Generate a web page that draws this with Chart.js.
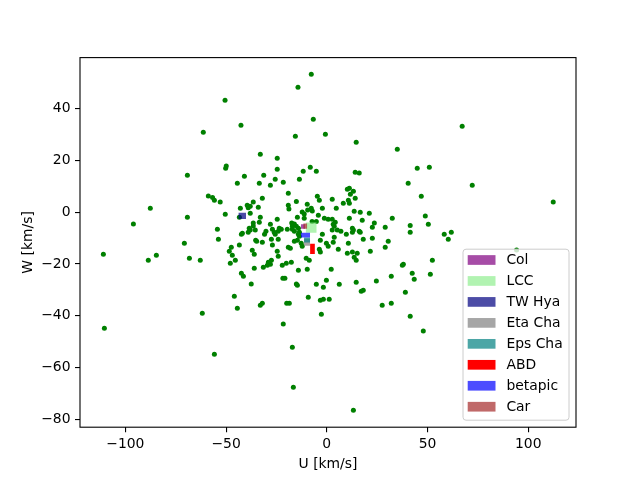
<!DOCTYPE html>
<html>
<head>
<meta charset="utf-8">
<script src="https://cdn.jsdelivr.net/npm/chart.js@4"></script>
<style>
  html, body { margin: 0; padding: 0; background: #fff; }
  canvas { display: block; }
</style>
</head>
<body>
<canvas id="uw-chart" width="640" height="480"></canvas>
<script>
// stars: U and W velocities (km/s)
const starU = [
  -7.7, -14.3, -50.5, -6.7, -42.6, 67.2, -61.3, -0.7, -15.6, 14.6,
  35.0, -33.0, -24.6, -49.9, -50.2, -8.2, 44.9, 50.9, -24.6, -11.7,
  -5.2, 14.1, 16.1, -69.2, -40.9, -31.3, -25.6, -13.6, -44.4, -33.5,
  -21.6, 40.4, -28.0, 72.2, 11.2, 10.2, 13.2, -19.1, 11.7, -58.8,
  -56.7, -4.7, 46.9, -32.0, 14.1, 2.7, -55.8, -3.7, 10.7, -15.1,
  -52.9, -36.5, 112.4, 8.2, 11.2, -9.7, -19.1, -39.5, -38.0, -39.0,
  -34.0, -87.6, -42.9, -7.7, -2.2, 4.7, -18.8, -9.5, -7.2, -12.2,
  13.6, 16.6, -38.0, 21.1, -50.4, -11.2, -4.2, 48.9, -69.2, -33.0,
  -43.4, -14.6, -11.2, -1.2, 11.2, 32.5, -24.6, 0.7, 2.7, 17.6,
  -7.3, -5.2, -33.5, 4.2, -36.5, -17.4, 23.6, -16.1, -28.0, -96.0,
  50.4, 3.2, 41.4, -36.5, -17.1, -15.1, 29.0, 22.6, -14.1, -23.6,
  -38.5, 12.7, -54.3, -27.0, -22.6, -19.6, -17.1, 3.7, -38.0, -35.5,
  2.7, 5.2, 13.2, -30.2, -24.1, -16.1, 7.0, 12.7, 16.1,
  -26.1, -13.6, -39.0, 16.6, 41.4, 61.8, -41.9, -42.4, -30.9, -25.6,
  -14.1, -2.2, 9.7, 58.3, -13.6, 3.7, -53.8, -27.5, -24.1, 18.1,
  22.6, 60.3, -14.6, -3.2, -35.3, -34.8, -16.1, 30.5, -32.0, 3.2,
  -12.7, -0.2, -70.7, 10.7, -43.4, -27.0, -12.2, 0.7, -47.4, -19.1,
  -18.1, 29.0, -3.7, 5.7, -48.4, -37.0, -24.6, 21.6, -3.2, 12.7,
  10.2, 15.1, -110.9, -46.9, -36.0, -84.6, -24.1, 13.6, -68.2, -10.2,
  -88.6, -62.8, -45.4, -27.5, -8.7, 14.6, 52.4, 94.2, -29.0, -17.6,
  -28.0, -47.9, -20.1, 38.0, 37.5, -29.5, -22.1, -31.5, -36.0, -9.7,
  2.2, -14.1, -42.4, 42.4, 51.4, -41.4, 32.0, -21.8, -20.8, 43.4,
  -0.2, 24.6, 14.6, -37.5, -15.1, -5.2, 6.2, -14.6, -1.7, 18.1,
  17.1, 39.0, -45.9, -9.2, -3.2, -1.7, 1.2, -19.9, -18.6, -32.0,
  -33.0, 32.0, 27.5, -44.4, -61.8, -2.7, 41.4, -21.6, -110.4, 47.9,
  -17.1, -55.8, -16.6, 13.2,
];
const starW = [
  53.3, 48.3, 43.2, 35.9, 33.6, 33.2, 30.9, 30.1, 29.3, 27.0,
  24.3, 22.4, 20.8, 17.8, 17.0, 17.4, 17.0, 17.4, 16.6, 15.8,
  15.8, 15.4, 15.1, 14.3, 13.9, 14.3, 12.7, 12.7, 11.2, 11.2,
  11.6, 11.2, 10.4, 10.4, 9.3, 8.9, 8.1, 7.3, 6.9, 6.3,
  5.7, 6.2, 6.2, 5.4, 5.4, 5.0, 4.6, 4.6, 4.6, 4.1,
  3.9, 3.9, 3.9, 3.5, 3.5, 3.1, 2.7, 2.7, 2.3, 1.7,
  1.9, 1.5, 1.5, 1.5, 1.5, 1.5, 1.2, 0.9, 0.5, 0.1,
  0.4, 0.0, -0.4, -0.4, -0.8, -0.7, -1.2, -1.5, -1.9, -1.9,
  -1.9, -1.9, -2.3, -2.3, -2.3, -2.3, -2.7, -2.7, -2.7, -3.1,
  -3.6, -3.6, -3.9, -3.9, -4.2, -4.2, -4.2, -4.5, -4.6, -4.5,
  -4.6, -4.6, -5.1, -5.3, -5.4, -5.4, -5.8, -5.8, -6.2, -6.2,
  -6.2, -6.2, -6.6, -6.6, -6.6, -6.6, -6.6, -5.4, -6.9, -6.9,
  -6.9, -6.9, -6.9, -7.3, -7.3, -7.3, -7.3, -7.7, -7.3,
  -7.7, -7.7, -7.7, -7.7, -7.7, -7.7, -8.1, -8.5, -8.5, -8.5,
  -8.5, -8.5, -8.5, -8.5, -9.3, -9.7, -10.4, -10.4, -10.4, -10.4,
  -10.0, -10.4, -10.8, -10.8, -10.8, -11.2, -11.2, -11.2, -11.6, -11.6,
  -12.0, -12.0, -12.0, -12.0, -12.7, -12.7, -13.1, -13.1, -13.5, -13.5,
  -13.9, -13.5, -14.3, -14.3, -15.1, -14.7, -15.1, -15.1, -15.4, -15.4,
  -15.8, -15.8, -16.2, -16.6, -16.2, -16.6, -17.0, -17.4, -17.8, -17.8,
  -18.5, -18.5, -18.5, -18.5, -18.5, -18.5, -18.5, -14.6, -19.3, -19.3,
  -20.1, -19.7, -19.7, -20.1, -20.5, -20.5, -20.5, -21.2, -21.6, -22.0,
  -22.0, -22.4, -23.6, -23.6, -23.9, -24.7, -24.7, -25.5, -25.5, -25.9,
  -26.3, -26.6, -27.0, -27.7, -27.7, -27.8, -27.8, -28.2, -29.0, -30.1,
  -30.5, -30.9, -32.4, -32.8, -34.0, -33.6, -33.6, -35.1, -35.1, -35.1,
  -35.9, -35.1, -35.9, -37.1, -39.0, -39.4, -40.2, -43.2, -44.8, -45.9,
  -52.1, -54.8, -67.6, -76.5,
];

// moving groups: U/W boxes
const groupNames  = ['Col', 'LCC', 'TW Hya', 'Eta Cha', 'Eps Cha', 'ABD', 'betapic', 'Car'];
const groupColors = [
  'rgba(128,0,128,0.7)', 'rgba(144,238,144,0.7)', 'rgba(0,0,128,0.7)', 'rgba(128,128,128,0.7)',
  'rgba(0,128,128,0.7)', 'rgb(255,0,0)', 'rgba(0,0,255,0.7)', 'rgba(165,42,42,0.7)',
];
const groupUMin = [-12.8, -10.5, -43.9, -11.3, -11.3, -8.3, -12.8, -11.7];
const groupUMax = [-10.7, -5.0, -40.1, -8.3, -8.3, -5.9, -8.3, -9.7];
const groupWMin = [-6.4, -7.9, -2.6, -12.9, -11.7, -16.1, -9.8, -6.4];
const groupWMax = [-4.6, -4.0, -0.2, -10.2, -9.8, -12.2, -7.9, -4.4];

const xTicks = [-100, -50, 0, 50, 100];
const yTicks = [-80, -60, -40, -20, 0, 20, 40];

const FONT = 13.9;
Chart.defaults.font.family = '"DejaVu Sans", sans-serif';
Chart.defaults.font.size = FONT;
Chart.defaults.color = '#000';

const minus = v => String(v).replace('-', '\u2212');

// spines on all four sides
const frame = {
  id: 'frame',
  afterDatasetsDraw(chart) {
    const { ctx, chartArea: a } = chart;
    ctx.save();
    ctx.strokeStyle = '#000';
    ctx.lineWidth = 1.1;
    ctx.strokeRect(a.left, a.top, a.right - a.left, a.bottom - a.top);
    ctx.restore();
  },
};

// matplotlib-style legend inside lower right
const boxLegend = {
  id: 'boxLegend',
  afterDraw(chart) {
    const { ctx, chartArea: a } = chart;
    const w = 106, h = 171, row = 20.96, r = 3;
    const right = a.right - 7, bottom = a.bottom - 7;
    const left = right - w, top = bottom - h;
    ctx.save();
    ctx.beginPath();
    ctx.moveTo(left + r, top);
    ctx.arcTo(right, top, right, bottom, r);
    ctx.arcTo(right, bottom, left, bottom, r);
    ctx.arcTo(left, bottom, left, top, r);
    ctx.arcTo(left, top, right, top, r);
    ctx.closePath();
    ctx.fillStyle = 'rgba(255,255,255,0.8)';
    ctx.fill();
    ctx.strokeStyle = '#cccccc';
    ctx.lineWidth = 1;
    ctx.stroke();
    ctx.font = `${FONT}px "DejaVu Sans"`;
    ctx.textBaseline = 'middle';
    chart.data.datasets.slice(1).forEach((ds, i) => {
      const cy = top + 10.8 + i * row;
      ctx.fillStyle = ds.backgroundColor;
      ctx.fillRect(left + 4.7, cy - 4.85, 27.8, 9.7);
      ctx.fillStyle = '#000';
      ctx.fillText(ds.label, left + 43.4, cy + 0.5);
    });
    ctx.restore();
  },
};

const boxSets = groupNames.map((name, i) => ({
  type: 'line',
  label: name,
  data: [{ x: groupUMin[i], y: groupWMax[i] }, { x: groupUMax[i], y: groupWMax[i] }],
  fill: { value: groupWMin[i] },
  backgroundColor: groupColors[i],
  borderWidth: 0,
  pointRadius: 0,
  order: 10 - i,
}));

new Chart(document.getElementById('uw-chart'), {
  type: 'scatter',
  data: {
    datasets: [
      {
        label: 'stars',
        data: starU.map((u, i) => ({ x: u, y: starW[i] })),
        backgroundColor: '#008000',
        borderWidth: 0,
        pointRadius: 2.5,
        order: 100,
      },
      ...boxSets,
    ],
  },
  options: {
    responsive: false,
    animation: false,
    devicePixelRatio: 1,
    layout: { padding: { top: 57.6, right: 64, left: 0, bottom: 0 } },
    plugins: { legend: { display: false }, tooltip: { enabled: false } },
    scales: {
      x: {
        type: 'linear',
        min: -122.5, max: 123.7,
        afterBuildTicks: s => { s.ticks = xTicks.map(v => ({ value: v })); },
        afterFit: s => { s.height = 52.8; },
        ticks: { callback: minus, maxRotation: 0, padding: 3.5, color: '#000' },
        grid: { drawOnChartArea: false, tickLength: 5, color: '#000', lineWidth: 1.1 },
        border: { display: false },
        title: { display: true, text: 'U [km/s]', color: '#000', padding: { top: 0, bottom: 7.7 } },
      },
      y: {
        type: 'linear',
        min: -83.0, max: 59.7,
        afterBuildTicks: s => { s.ticks = yTicks.map(v => ({ value: v })); },
        afterFit: s => { s.width = 80; },
        ticks: { callback: minus, padding: 4.5, color: '#000' },
        grid: { drawOnChartArea: false, tickLength: 5, color: '#000', lineWidth: 1.1 },
        border: { display: false },
        title: { display: true, text: 'W [km/s]', color: '#000', padding: { top: 19.7, bottom: 0 } },
      },
    },
  },
  plugins: [frame, boxLegend],
});
</script>
</body>
</html>
